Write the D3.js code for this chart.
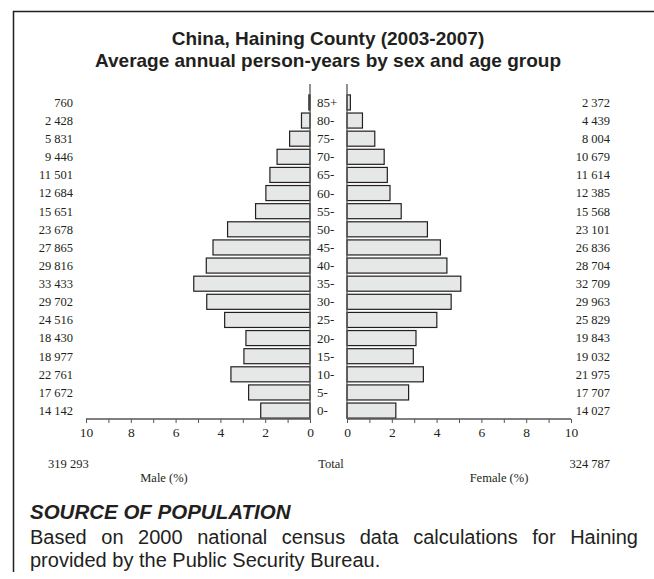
<!DOCTYPE html>
<html><head><meta charset="utf-8">
<script src="https://cdn.jsdelivr.net/npm/d3@7/dist/d3.min.js"></script>
<style>body{margin:0;background:#fff}svg{display:block}</style>
</head><body>
<svg id="c" width="654" height="579"></svg>
<script>
const ages = ["0-","5-","10-","15-","20-","25-","30-","35-","40-","45-","50-","55-","60-","65-","70-","75-","80-","85+"];
const maleCounts = ["14 142","17 672","22 761","18 977","18 430","24 516","29 702","33 433","29 816","27 865","23 678","15 651","12 684","11 501","9 446","5 831","2 428","760"];
const femaleCounts = ["14 027","17 707","21 975","19 032","19 843","25 829","29 963","32 709","28 704","26 836","23 101","15 568","12 385","11 614","10 679","8 004","4 439","2 372"];
const malePct = [2.20,2.74,3.53,2.95,2.86,3.81,4.61,5.19,4.63,4.33,3.68,2.43,1.97,1.79,1.47,0.91,0.38,0.05];
const femalePct = [2.18,2.75,3.41,2.96,3.08,4.01,4.65,5.08,4.46,4.17,3.59,2.42,1.92,1.80,1.66,1.24,0.69,0.15];
const ticks = [0,2,4,6,8,10];
const minorTicks = [0,1,2,3,4,5,6,7,8,9,10];
const totals = {male:"319 293", female:"324 787"};

const svg = d3.select("#c");
const serif = "'Liberation Serif','Times New Roman',serif";
const sans = "'Liberation Sans',Arial,sans-serif";
const ink = "#231f20";

// frame
svg.append("path").attr("d","M13.5,572 V11.5 H654").attr("fill","none").attr("stroke",ink).attr("stroke-width",1.5);

// title
svg.append("text").attr("x",328).attr("y",45).attr("text-anchor","middle").attr("font-family",sans).attr("font-weight","bold").attr("font-size",19).attr("fill",ink).text("China, Haining County (2003-2007)");
svg.append("text").attr("x",328).attr("y",67).attr("text-anchor","middle").attr("font-family",sans).attr("font-weight","bold").attr("font-size",19).attr("fill",ink).text("Average annual person-years by sex and age group");

const y = d3.scaleBand().domain(ages.slice().reverse()).range([94,419]).paddingInner(0.17).paddingOuter(0.05);
const xL = d3.scaleLinear().domain([0,10]).range([310,86]);
const xR = d3.scaleLinear().domain([0,10]).range([347,571]);
const axisY = 419;

const data = ages.map((a,i)=>({age:a,m:malePct[i],f:femalePct[i],mc:maleCounts[i],fc:femaleCounts[i]}));

// bars
svg.append("g").selectAll("rect").data(data).join("rect")
  .attr("x",d=>xL(d.m)).attr("y",d=>y(d.age)).attr("width",d=>xL(0)-xL(d.m)).attr("height",y.bandwidth())
  .attr("fill","#e6e7e7").attr("stroke",ink).attr("stroke-width",1.2);
svg.append("g").selectAll("rect").data(data).join("rect")
  .attr("x",xR(0)).attr("y",d=>y(d.age)).attr("width",d=>xR(d.f)-xR(0)).attr("height",y.bandwidth())
  .attr("fill","#e6e7e7").attr("stroke",ink).attr("stroke-width",1.2);

// vertical axis lines
[xL(0), xR(0)].forEach(x=>{
  svg.append("line").attr("x1",x).attr("x2",x).attr("y1",84).attr("y2",axisY).attr("stroke","#555").attr("stroke-width",1.3);
});

// bottom axes
function drawAxis(scale){
  const g = svg.append("g").attr("transform",`translate(0,${axisY})`);
  const ax = d3.axisBottom(scale).tickValues(minorTicks).tickSize(4).tickFormat(d=>ticks.includes(d)?d:"");
  g.call(ax);
  g.select(".domain").attr("stroke","#555").attr("stroke-width",1.5).attr("d",`M${scale(0)},0H${scale(10)}`);
  g.selectAll(".tick line").attr("stroke","#555").attr("stroke-width",1);
  g.selectAll(".tick text").attr("font-family",serif).attr("font-size",13.5).attr("fill",ink).attr("dy","0.85em");
}
drawAxis(xL); drawAxis(xR);

// age labels
svg.append("g").selectAll("text").data(data).join("text")
  .attr("x",317).attr("y",d=>y(d.age)+y.bandwidth()/2).attr("dy","0.35em")
  .attr("font-family",serif).attr("font-size",13).attr("fill",ink).text(d=>d.age);
// counts
svg.append("g").selectAll("text").data(data).join("text")
  .attr("x",73).attr("y",d=>y(d.age)+y.bandwidth()/2).attr("dy","0.35em").attr("text-anchor","end")
  .attr("font-family",serif).attr("font-size",12.5).attr("fill",ink).text(d=>d.mc);
svg.append("g").selectAll("text").data(data).join("text")
  .attr("x",610).attr("y",d=>y(d.age)+y.bandwidth()/2).attr("dy","0.35em").attr("text-anchor","end")
  .attr("font-family",serif).attr("font-size",12.5).attr("fill",ink).text(d=>d.fc);

// totals
svg.append("text").attr("x",48).attr("y",468).attr("font-family",serif).attr("font-size",12.5).attr("fill",ink).text(totals.male);
svg.append("text").attr("x",610).attr("y",468).attr("text-anchor","end").attr("font-family",serif).attr("font-size",12.5).attr("fill",ink).text(totals.female);
svg.append("text").attr("x",331).attr("y",468).attr("text-anchor","middle").attr("font-family",serif).attr("font-size",12.5).attr("fill",ink).text("Total");
svg.append("text").attr("x",164).attr("y",482).attr("text-anchor","middle").attr("font-family",serif).attr("font-size",12.5).attr("fill",ink).text("Male (%)");
svg.append("text").attr("x",499).attr("y",482).attr("text-anchor","middle").attr("font-family",serif).attr("font-size",12.5).attr("fill",ink).text("Female (%)");

// source
svg.append("text").attr("x",30).attr("y",519).attr("font-family",sans).attr("font-weight","bold").attr("font-style","italic").attr("font-size",20.5).attr("fill",ink).text("SOURCE OF POPULATION");
const l1 = svg.append("text").attr("x",30).attr("y",544).attr("font-family",sans).attr("font-size",20).attr("fill",ink).text("Based on 2000 national census data calculations for Haining");
const nat = l1.node().getComputedTextLength();
const spaces = (l1.text().match(/ /g)||[]).length;
l1.attr("word-spacing", ((638-30)-nat)/spaces);
svg.append("text").attr("x",30).attr("y",567).attr("font-family",sans).attr("font-size",20).attr("fill",ink).text("provided by the Public Security Bureau.");
</script>
</body></html>
